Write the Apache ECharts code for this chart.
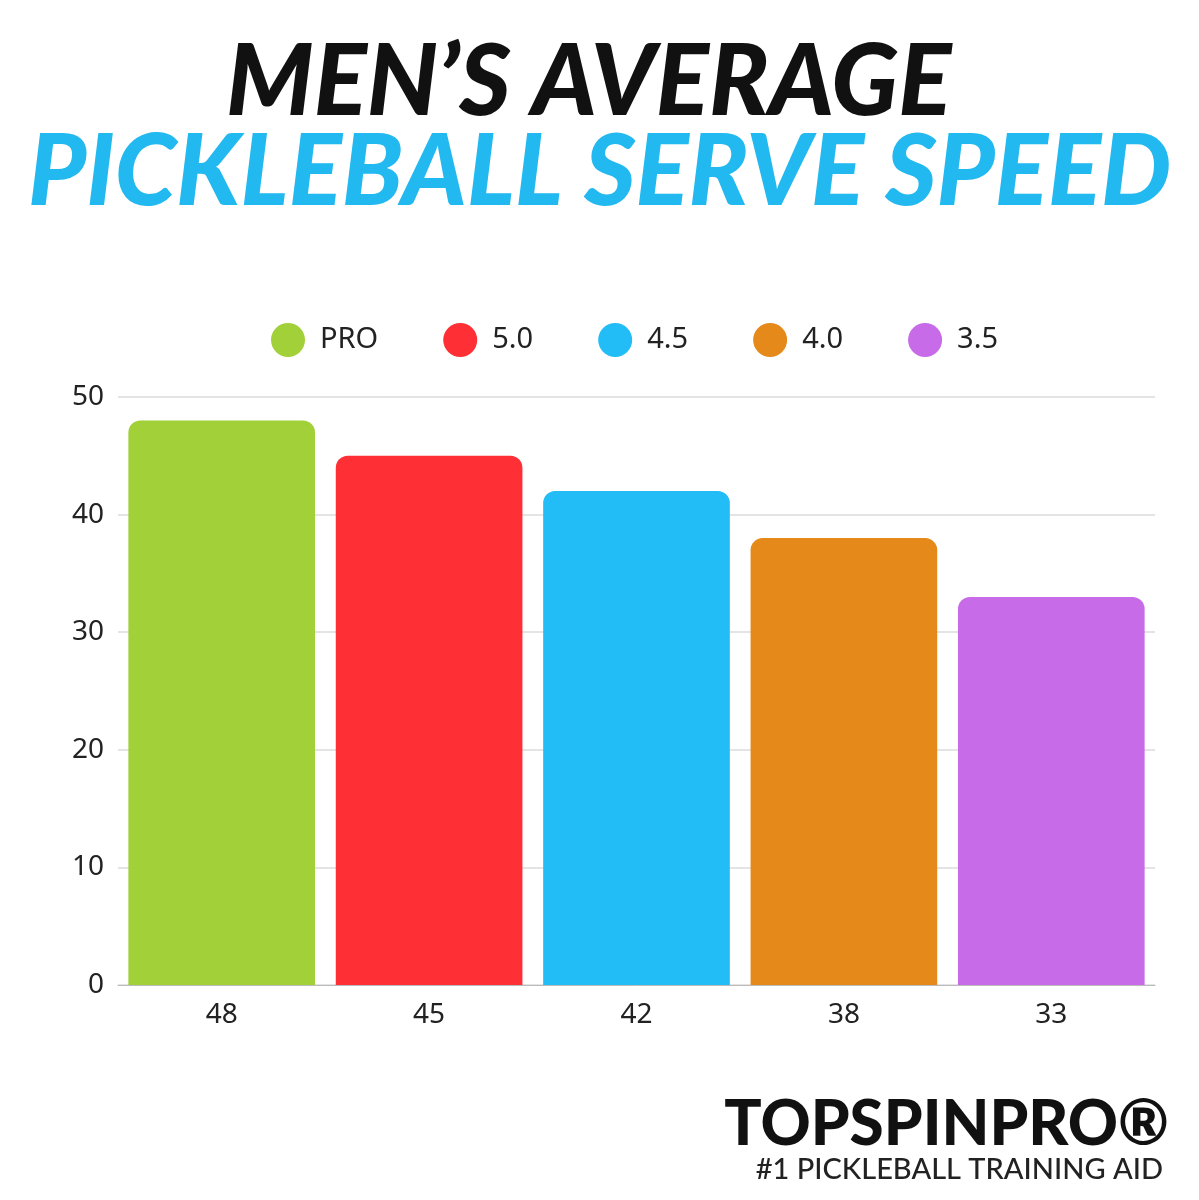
<!DOCTYPE html>
<html><head><meta charset="utf-8">
<script src="https://cdn.jsdelivr.net/npm/echarts@6/dist/echarts.min.js"></script>
<style>html,body{margin:0;background:#fff}#c{width:1199px;height:1200px}</style>
</head><body><div id="c"></div>
<script>
var levels = ['PRO', '5.0', '4.5', '4.0', '3.5'];
var speeds = [48, 45, 42, 38, 33];
var colors = ['#a2d038', '#fe2f35', '#22bdf6', '#e5891b', '#c76be8'];

var chart = echarts.init(document.getElementById('c'));
var series = levels.map(function (name, i) {
    return {
        name: name,
        type: 'bar',
        stack: 'all',
        barWidth: '90%',
        itemStyle: { color: colors[i], borderRadius: [12, 12, 0, 0] },
        data: speeds.map(function (v, j) { return j === i ? v : '-'; })
    };
});
chart.setOption({
    animation: false,
    color: colors,
    graphic: [
        { type: 'text', left: 226, top: 34, style: { text: 'MEN\u2019S AVERAGE', fill: '#111', font: 'italic 900 99px Lato' } },
        { type: 'text', left: 'center', top: 124, style: { text: 'PICKLEBALL SERVE SPEED', fill: '#22b8f0', font: 'italic 900 99px Lato' } },
        { type: 'text', right: 30, top: 1094, style: { text: 'TOPSPINPRO\u00ae', fill: '#111', font: '900 62px Lato' } },
        { type: 'text', right: 36, top: 1155, style: { text: '#1 PICKLEBALL TRAINING AID', fill: '#222', font: '500 29px Lato' } }
    ],
    legend: {
        top: 318, left: 266,
        icon: 'circle', itemWidth: 34, itemHeight: 34, itemGap: 65,
        textStyle: { fontSize: 29, color: '#222', fontFamily: 'Noto Sans', padding: [0, 0, 0, 10] },
        data: levels
    },
    grid: { left: 118, right: 44, top: 397, bottom: 215 },
    xAxis: {
        type: 'category',
        data: speeds.map(String),
        axisTick: { show: false },
        axisLine: { lineStyle: { color: '#bbb' } },
        axisLabel: { fontSize: 28, color: '#222', margin: 16, fontFamily: 'Noto Sans' }
    },
    yAxis: {
        type: 'value', min: 0, max: 50, interval: 10,
        axisLabel: { fontSize: 28, color: '#222', margin: 14, fontFamily: 'Noto Sans' },
        splitLine: { lineStyle: { color: '#e4e4e4', width: 2 } }
    },
    series: series
});
</script></body></html>
